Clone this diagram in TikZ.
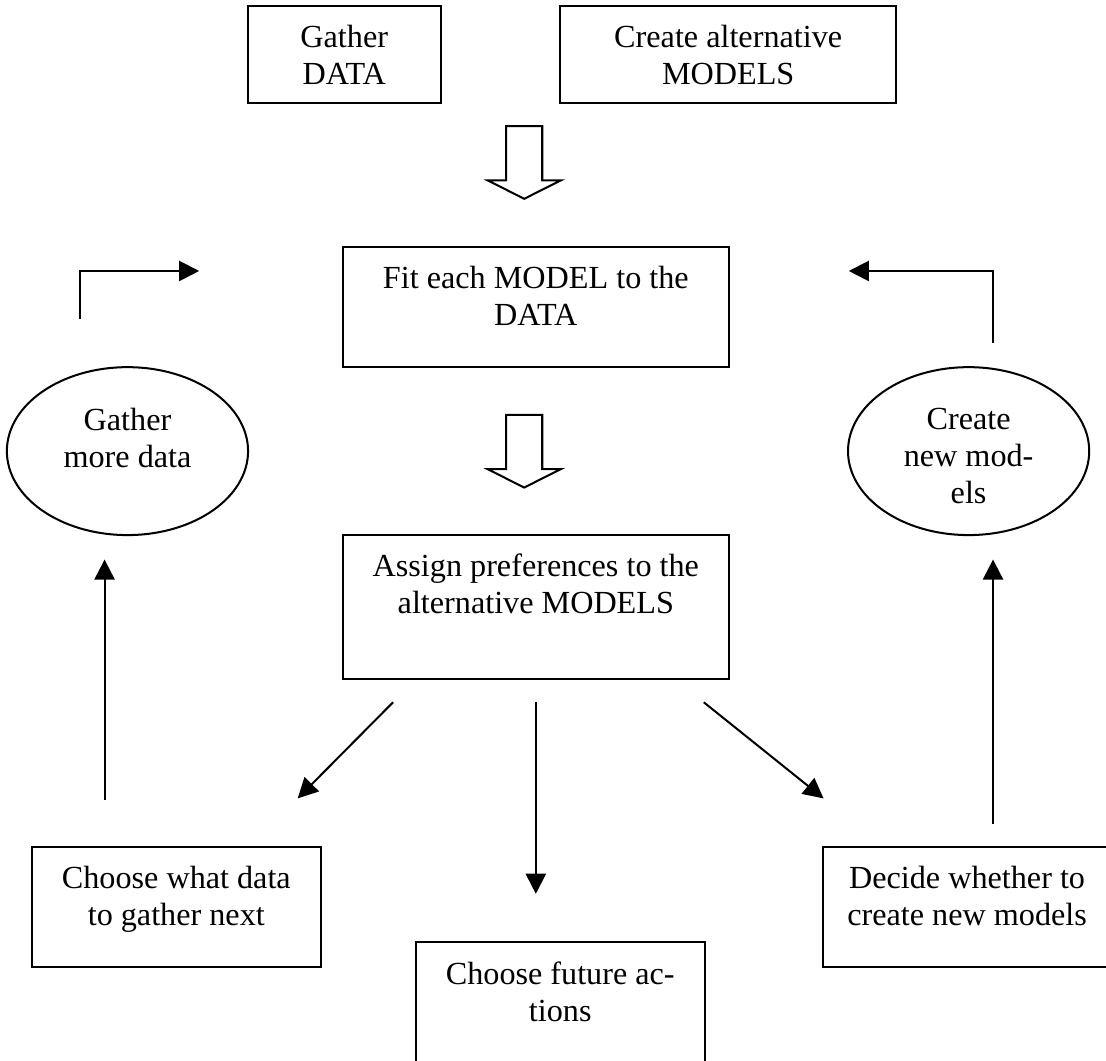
\documentclass[tikz,border=0pt]{standalone}
\usepackage{fontspec}
\setmainfont{Liberation Serif}
\usetikzlibrary{arrows.meta,positioning,shapes.geometric}

\begin{document}
\begin{tikzpicture}[font=\fontsize{12}{13.8}\selectfont,
  box/.style={draw,line width=0.75pt,minimum width=3.78cm,minimum height=1.57cm,inner sep=0pt},
  oval/.style={draw,line width=0.75pt,ellipse,minimum width=3.16cm,minimum height=2.20cm,inner sep=0pt},
  txt/.style={align=center,inner sep=0pt},
  arr/.style={line width=0.75pt,-{Triangle[length=7.5pt,width=7.5pt]}},
  hollow/.style={draw,line width=0.75pt,fill=white}]
\useasboundingbox (0,0) rectangle (14.49,-13.90);
\node[box,minimum width=2.53cm,minimum height=1.27cm] (gdata) at (4.51,-0.71) {};
\node[txt,below=0.26 of gdata.north] (gdatatxt) {Gather\\DATA};
\node[box,minimum width=4.40cm,minimum height=1.27cm] (cmod) at (9.54,-0.71) {};
\node[txt,below=0.26 of cmod.north] (cmodtxt) {Create alternative\\MODELS};
\foreach \yt in {-1.651,-5.434}
  \draw[hollow] (6.632,\yt) -- ++(0.472,0) -- ++(0,-0.713) -- ++(0.242,0)
    -- ++(-0.478,-0.24) -- ++(-0.478,0.24) -- ++(0.242,0) -- cycle;
\node[box,minimum width=5.05cm] (fit) at (7.02,-4.02) {};
\node[txt,below=0.26 of fit.north] (fittxt) {Fit each MODEL to the\\DATA};
\node[box,minimum width=5.05cm,minimum height=1.89cm] (assign) at (7.02,-7.95) {};
\node[txt,below=0.26 of assign.north] (assigntxt) {Assign preferences to the\\alternative MODELS};
\node[oval] (gmore) at (1.67,-5.91) {};
\node[txt,below=0.54 of gmore.north] (gmoretxt) {Gather\\more data};
\node[oval] (cnew) at (12.69,-5.91) {};
\node[txt,below=0.54 of cnew.north] (cnewtxt) {Create\\new mod-\\els};
\node[box] (cwhat) at (2.31,-11.88) {};
\node[txt,below=0.26 of cwhat.north] (cwhattxt) {Choose what data\\to gather next};
\node[box] (decide) at (12.67,-11.88) {};
\node[txt,below=0.26 of decide.north] (decidetxt) {Decide whether to\\create new models};
\node[box,minimum height=1.89cm] (future) at (7.34,-13.29) {};
\node[txt,below=0.26 of future.north] (futuretxt) {Choose future ac-\\tions};
\coordinate (gmout) at (1.05,-4.18);
\coordinate (gmin) at (2.61,-3.55);
\coordinate (cnout) at (13.01,-4.49);
\coordinate (cnin) at (11.12,-3.55);
\draw[arr] (gmout) |- (gmin);
\draw[arr] (cnout) |- (cnin);
\coordinate (asl) at (5.15,-9.20);
\coordinate (asm) at (7.02,-9.20);
\coordinate (asr) at (9.22,-9.20);
\coordinate (tol) at (3.90,-10.46);
\coordinate (tom) at (7.02,-11.71);
\coordinate (tor) at (10.79,-10.46);
\draw[arr] (asl) -- (tol);
\draw[arr] (asm) -- (tom);
\draw[arr] (asr) -- (tor);
\coordinate (cwup) at (1.37,-10.48);
\coordinate (gmdn) at (1.37,-7.33);
\coordinate (deup) at (13.01,-10.79);
\coordinate (cndn) at (13.01,-7.33);
\draw[arr] (cwup) -- (gmdn);
\draw[arr] (deup) -- (cndn);
\end{tikzpicture}
\end{document}
